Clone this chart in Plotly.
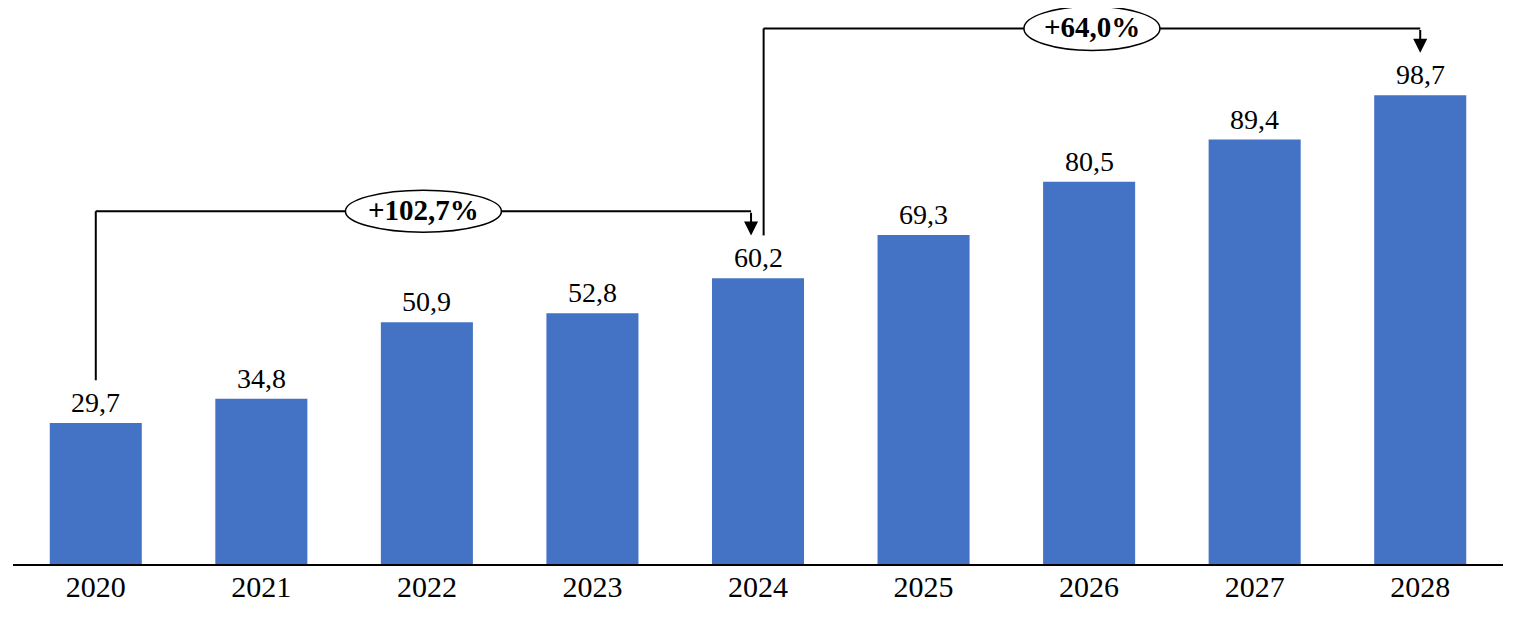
import plotly.graph_objects as go

years = ["2020", "2021", "2022", "2023", "2024", "2025", "2026", "2027", "2028"]
values = [29.7, 34.8, 50.9, 52.8, 60.2, 69.3, 80.5, 89.4, 98.7]

BAR_COLOR = "#4472C4"
FONT = "Palatino Linotype, Book Antiqua, Liberation Serif, serif"

fig = go.Figure()
fig.add_trace(go.Bar(
    x=list(range(len(years))), y=values, marker_color=BAR_COLOR,
    marker_line_width=0, hoverinfo="skip",
))

# value labels
for i, v in enumerate(values):
    fig.add_annotation(x=i, y=v, text=f"{v:.1f}".replace(".", ","), showarrow=False,
                       yanchor="bottom", yshift=3, font=dict(family=FONT, size=28, color="black"))

def fmt_pct(a, b):
    p = (b / a - 1) * 100
    return "+" + f"{p:.1f}".replace(".", ",") + "%"

def bracket(i0, i1, x0off, x1off, pill_w, pill_h):
    v0, v1 = values[i0], values[i1]
    level = values[i1] + 14.1
    start_bottom = v0 + 9
    tip = v1 + 9
    xa = i0 + x0off
    xb = i1 + x1off
    line = dict(color="black", width=2)
    fig.add_shape(type="line", xref="x", yref="y", x0=xa, x1=xa, y0=start_bottom, y1=level, line=line)
    fig.add_shape(type="line", xref="x", yref="y", x0=xa, x1=xb, y0=level, y1=level, line=line)
    fig.add_annotation(x=xb, y=tip, ax=xb, ay=level, axref="x", ayref="y", xref="x", yref="y",
                       text="", showarrow=True, arrowhead=2, arrowsize=1.4, arrowwidth=2,
                       arrowcolor="black", standoff=0)
    xm = (xa + xb) / 2
    fig.add_shape(type="circle", xref="x", yref="y", xsizemode="pixel", ysizemode="pixel",
                  xanchor=xm, yanchor=level, x0=-pill_w / 2, x1=pill_w / 2,
                  y0=-pill_h / 2, y1=pill_h / 2, fillcolor="white",
                  line=dict(color="black", width=1.5), layer="above")
    fig.add_annotation(x=xm, y=level, text="<b>" + fmt_pct(v0, v1) + "</b>", showarrow=False,
                       font=dict(family=FONT, size=29, color="black"), yshift=1)

bracket(0, 4, 0.0, -0.042, 156, 42)
bracket(4, 8, 0.034, 0.0, 136, 44)

fig.update_layout(
    width=1508, height=615,
    margin=dict(l=5, r=13, t=0, b=59),
    plot_bgcolor="white", paper_bgcolor="white",
    bargap=0.444, showlegend=False,
    font=dict(family=FONT, size=27, color="black"),
)
fig.update_xaxes(
    tickmode="array", tickvals=list(range(len(years))), ticktext=years,
    range=[-0.5, len(years) - 0.5],
    showline=True, linecolor="black", linewidth=2, ticks="", showgrid=False,
    tickfont=dict(family=FONT, size=30, color="black"), ticklabelstandoff=-5,
)
fig.update_yaxes(range=[0, 117.1], visible=False, showgrid=False, zeroline=False)

fig.write_html("out.html")
